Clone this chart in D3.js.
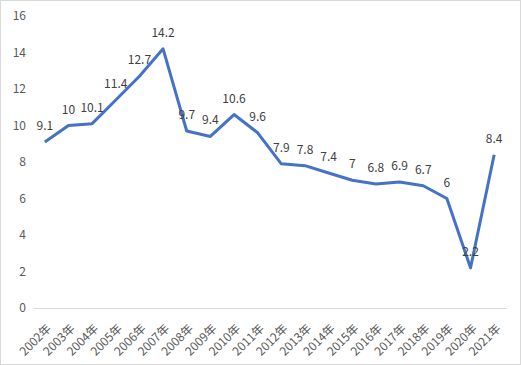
<!DOCTYPE html>
<html>
<head>
<meta charset="utf-8">
<script src="https://cdn.jsdelivr.net/npm/d3@7"></script>
<style>
  body { margin: 0; background: #fff; }
  text { font-family: "Noto Sans CJK SC", Calibri, "Liberation Sans", sans-serif; }
</style>
</head>
<body>
<svg id="chart" width="521" height="365"></svg>
<script>
const years = ['2002年', '2003年', '2004年', '2005年', '2006年', '2007年', '2008年', '2009年', '2010年', '2011年',
  '2012年', '2013年', '2014年', '2015年', '2016年', '2017年', '2018年', '2019年', '2020年', '2021年']
const growth = [9.1, 10, 10.1, 11.4, 12.7, 14.2, 9.7, 9.4, 10.6, 9.6, 7.9, 7.8, 7.4, 7, 6.8, 6.9, 6.7, 6, 2.2, 8.4]
const yTicks = [0, 2, 4, 6, 8, 10, 12, 14, 16]

const svg = d3.select('#chart')
const width = 521
const height = 365
const margin = { top: 16, right: 15, bottom: 57, left: 33 }

svg.append('rect')
  .attr('x', 0.5).attr('y', 0.5)
  .attr('width', width - 1).attr('height', height - 1)
  .attr('fill', '#fff')
  .attr('stroke', '#d9d9d9')

const data = years.map((y, i) => ({ year: y, value: growth[i] }))

const x = d3.scaleBand()
  .domain(years)
  .range([margin.left, width - margin.right])

const y = d3.scaleLinear()
  .domain([0, 16])
  .range([height - margin.bottom, margin.top])

// y axis labels, no line
const yAxis = svg.append('g')
  .attr('transform', `translate(${margin.left},0)`)
  .call(d3.axisLeft(y).tickValues(yTicks).tickSize(0).tickPadding(7))
yAxis.select('.domain').remove()
yAxis.selectAll('text')
  .attr('fill', '#595959')
  .style('font-size', '12px')

// x axis with baseline
const xAxis = svg.append('g')
  .attr('transform', `translate(0,${y(0)})`)
  .call(d3.axisBottom(x).tickSize(0).tickPadding(6))
xAxis.select('.domain').attr('stroke', '#d9d9d9')
xAxis.selectAll('text')
  .attr('fill', '#595959')
  .style('font-size', '12px')
  .attr('text-anchor', 'end')
  .attr('dy', '0.35em')
  .attr('transform', 'translate(0,14) rotate(-45)')

const cx = d => x(d.year) + x.bandwidth() / 2

svg.append('path')
  .datum(data)
  .attr('fill', 'none')
  .attr('stroke', '#4472C4')
  .attr('stroke-width', 3)
  .attr('stroke-linejoin', 'round')
  .attr('d', d3.line().x(cx).y(d => y(d.value)))

svg.append('g')
  .selectAll('text')
  .data(data)
  .enter()
  .append('text')
  .attr('x', cx)
  .attr('y', d => y(d.value) - 12)
  .attr('text-anchor', 'middle')
  .attr('fill', '#404040')
  .style('font-size', '12px')
  .text(d => d.value)
</script>
</body>
</html>
